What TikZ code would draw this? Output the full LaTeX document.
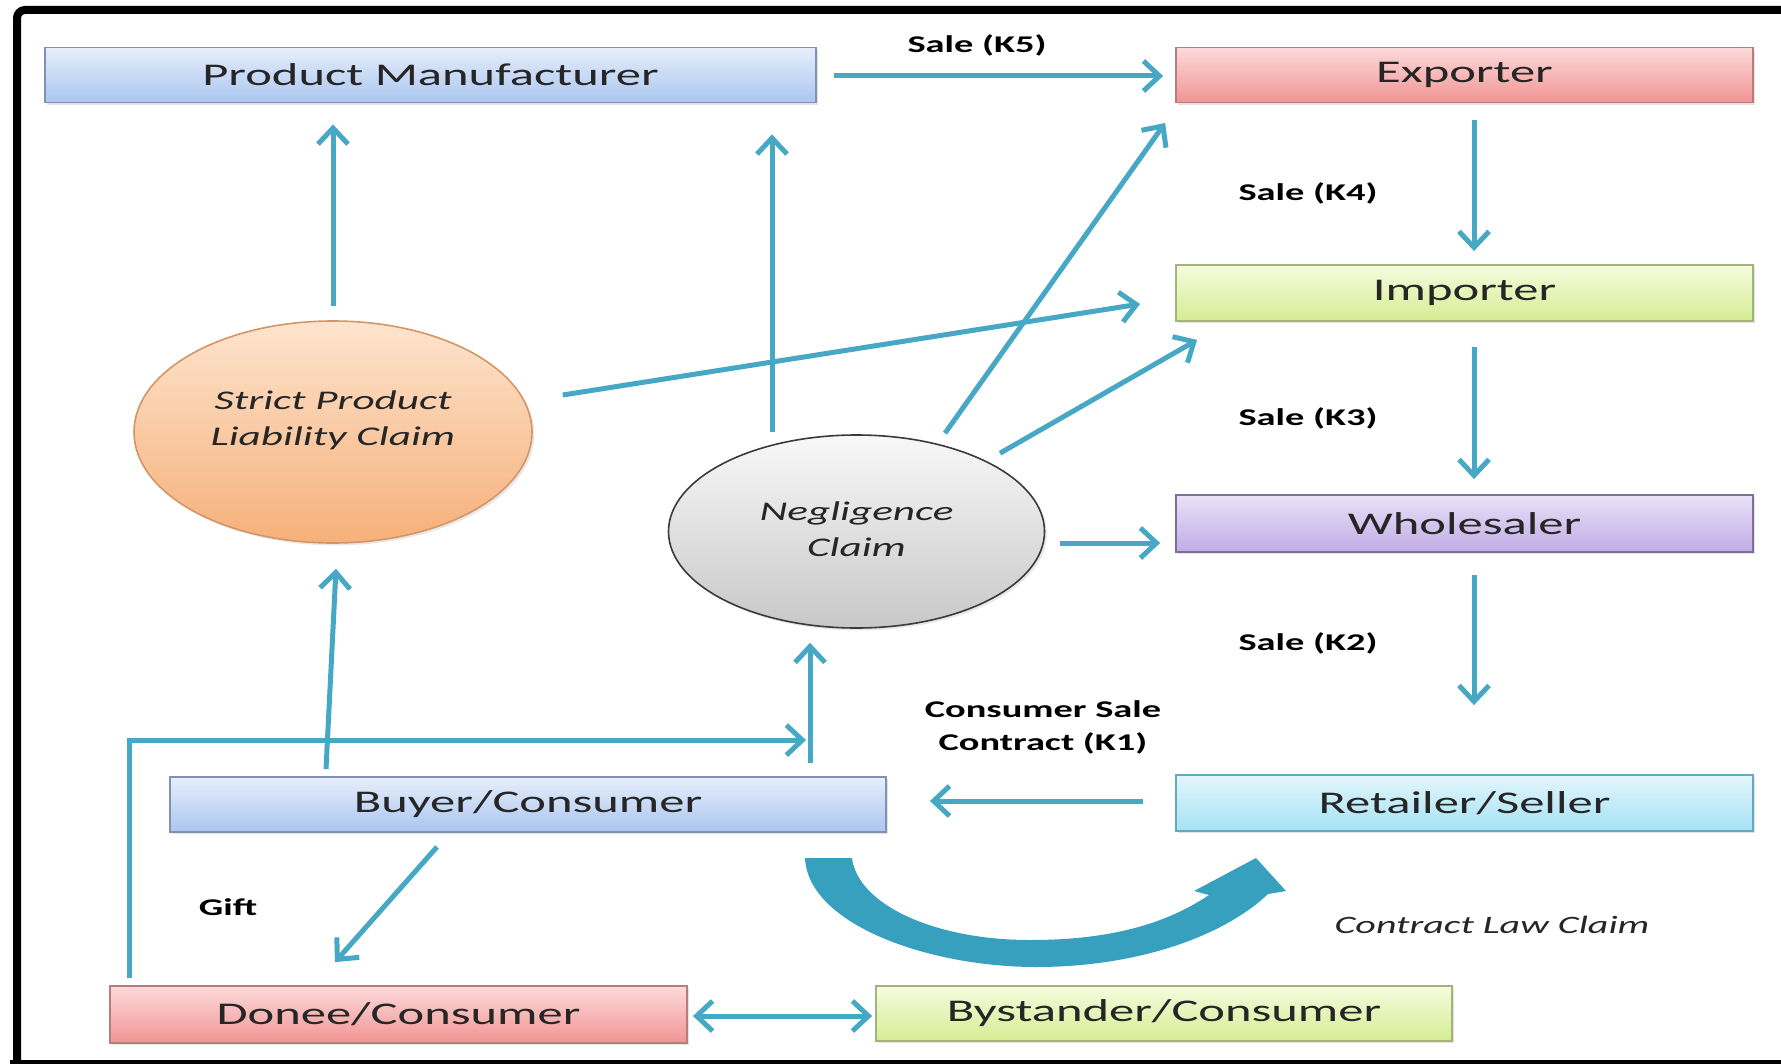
\documentclass[tikz,border=0pt]{standalone}
\usepackage{fontspec}
\setmainfont{Carlito}[FakeStretch=1.6]
\usetikzlibrary{arrows.meta,calc,shadows,shapes.geometric}

\definecolor{arrowc}{HTML}{46A8C4}
\definecolor{bigarrowc}{HTML}{38A0BF}
\definecolor{bluetop}{HTML}{E6EEFB}
\definecolor{bluebot}{HTML}{ABC6F0}
\definecolor{bluebd}{HTML}{7F92B4}
\definecolor{redtop}{HTML}{FCDADA}
\definecolor{redbot}{HTML}{F29494}
\definecolor{redbd}{HTML}{B87C7C}
\definecolor{greentop}{HTML}{F6FBDE}
\definecolor{greenbot}{HTML}{D5ED93}
\definecolor{greenbd}{HTML}{A2B47C}
\definecolor{purpletop}{HTML}{EAE1F7}
\definecolor{purplebot}{HTML}{C0ACE6}
\definecolor{purplebd}{HTML}{7E6F9A}
\definecolor{cyantop}{HTML}{E3F6FC}
\definecolor{cyanbot}{HTML}{A5E2F4}
\definecolor{cyanbd}{HTML}{62AABC}
\definecolor{orangetop}{HTML}{FDE4CE}
\definecolor{orangebot}{HTML}{F6B07A}
\definecolor{orangebd}{HTML}{D49666}
\definecolor{graytop}{HTML}{F8F8F8}
\definecolor{graybot}{HTML}{C8C8C8}
\definecolor{graybd}{HTML}{3A3A3A}

\begin{document}
\begin{tikzpicture}[x=0.5pt,y=-0.5pt,
  box/.style={draw, line width=0.9pt, inner sep=0pt, minimum height=27.5pt,
    font=\fontsize{15.8}{19}\selectfont, text=black!85,
    drop shadow={opacity=0.22, shadow xshift=1.2pt, shadow yshift=-1.2pt}},
  bluebox/.style={box, draw=bluebd, top color=bluetop, bottom color=bluebot},
  redbox/.style={box, draw=redbd, top color=redtop, bottom color=redbot},
  greenbox/.style={box, draw=greenbd, top color=greentop, bottom color=greenbot},
  purplebox/.style={box, draw=purplebd, top color=purpletop, bottom color=purplebot},
  cyanbox/.style={box, draw=cyanbd, top color=cyantop, bottom color=cyanbot},
  claim/.style={ellipse, draw, line width=0.8pt, inner sep=0pt,
    drop shadow={opacity=0.18, shadow xshift=1.2pt, shadow yshift=-1.2pt}},
  claimtext/.style={align=center, inner sep=0pt, text=black!85,
    font=\itshape\fontsize{13.5}{18}\selectfont},
  tipshape/.tip={Straight Barb[length=8pt,width=15pt]},
  conn/.style={draw=arrowc, line width=2.5pt, -tipshape},
  lbl/.style={align=center, inner sep=0pt, text=black,
    font=\bfseries\fontsize{12}{16.5}\selectfont},
]
\useasboundingbox (0,0) rectangle (1781,1064);
\clip (0,0) rectangle (1781,1064);
\fill[white] (0,0) rectangle (1781,1064);

% frame
\draw[line width=4pt, rounded corners=4pt] (17,1080) -- (17,10) -- (1800,10);
\draw[line width=2pt] (10,1062) -- (1800,1062);

% boxes
\node[bluebox, minimum width=385.5pt] (pm) at (430.5,75) {Product Manufacturer};
\node[redbox, minimum width=288.5pt] (exp) at (1464.5,75) {Exporter};
\node[greenbox, minimum width=288.5pt, minimum height=28pt] (imp) at (1464.5,293) {Importer};
\node[purplebox, minimum width=288.5pt, minimum height=28.5pt] (whs) at (1464.5,523.5) {Wholesaler};
\node[cyanbox, minimum width=288.5pt, minimum height=28pt] (ret) at (1464.5,803) {Retailer/Seller};
\node[bluebox, minimum width=358pt] (buy) at (528,804.5) {Buyer/Consumer};
\node[redbox, minimum width=288.5pt, minimum height=28.5pt] (don) at (398.5,1014.5) {Donee/Consumer};
\node[greenbox, minimum width=288pt] (bys) at (1164,1013.5) {Bystander/Consumer};

% claim ellipses
\node[claim, draw=orangebd, top color=orangetop, bottom color=orangebot,
  minimum width=199pt, minimum height=111pt] (spl) at (333,432) {};
\node[claimtext] (spltext) at (333,420) {Strict Product\\Liability Claim};
\node[claim, draw=graybd, top color=graytop, bottom color=graybot,
  minimum width=188pt, minimum height=96.5pt] (neg) at (856.5,531.5) {};
\node[claimtext] (negtext) at (856.5,529) {Negligence\\Claim};

% sale chain
\draw[conn] ($(pm.east)+(17,1)$) -- ($(exp.west)+(-12,1)$);
\draw[conn] ($(exp.south)+(9.5,17)$) -- ($(imp.north)+(9.5,-13)$);
\draw[conn] ($(imp.south)+(9.5,25)$) -- ($(whs.north)+(9.5,-15)$);
\draw[conn] ($(whs.south)+(9.5,22)$) -- ($(ret.north)+(9.5,-69)$);
\draw[conn] ($(ret.west)+(-32,-2)$) -- ($(buy.east)+(43,-3.5)$);

% strict product liability claims
\draw[conn] ($(spl.north)+(0,-14)$) -- ($(spl.north |- pm.south)+(0,21)$);
\draw[conn] ($(spl.east)+(30,-37)$) -- ($(imp.west)+(-35,11)$);

% negligence claims
\draw[conn] ($(neg.north)+(-84.5,-2)$) -- ($(pm.south)+(341.5,31)$);
\draw[conn] ($(neg.north)+(88.5,-1)$) -- ($(exp.west)+(-10,48)$);
\draw[conn] ($(neg.north)+(143.5,19)$) -- ($(imp.south west)+(22,18)$);
\draw[conn] ($(neg.east)+(14.5,11.5)$) -- ($(whs.west)+(-15,19.5)$);

% buyer claims
\draw[conn] ($(buy.north)+(-202,-7)$) -- ($(spl.south)+(3,25)$);
\draw[conn] ($(buy.north)+(282,-13)$) -- ($(neg.south)+(-46.5,14)$);
\coordinate (donup) at ($(don.north)+(-269.5,-7)$);
\coordinate (donend) at ($(buy.north)+(278,-36)$);
\draw[conn] (donup) -- (donup |- donend) -- (donend);

% gift and bystander
\draw[conn] ($(buy.south)+(-91,14)$) -- ($(don.north)+(-63.5,-23)$);
\draw[conn, tipshape-tipshape]
  ($(don.east)+(5,1.5)$) -- ($(bys.west)+(-3,2.5)$);

% contract law claim arrow
\fill[bigarrowc] (805,858) .. controls (808,925) and (930,967) .. (1036,967)
  .. controls (1140,967) and (1225,935) .. (1268,894)
  -- (1286,891) -- (1256,858) -- (1194,891) -- (1209,895)
  .. controls (1160,928) and (1100,940) .. (1030,940)
  .. controls (935,940) and (858,905) .. (852,858) -- cycle;

% labels
\node[lbl] (k5) at (977,45) {Sale (K5)};
\node[lbl] (k4) at (1308,193) {Sale (K4)};
\node[lbl] (k3) at (1308,418) {Sale (K3)};
\node[lbl] (k2) at (1308,643) {Sale (K2)};
\node[lbl] (k1) at (1043,727) {Consumer Sale\\Contract (K1)};
\node[lbl] (gift) at (228,907) {Gift};
\node[claimtext, font=\itshape\fontsize{12.5}{15}\selectfont] (clc) at (1492,925) {Contract Law Claim};
\end{tikzpicture}
\end{document}
